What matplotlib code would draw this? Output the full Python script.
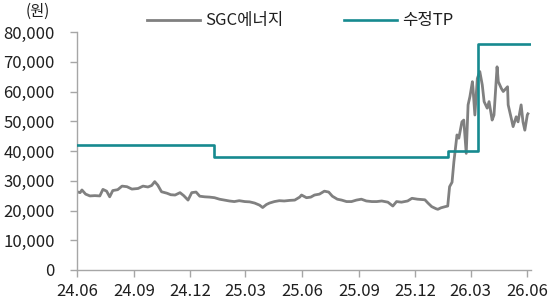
import matplotlib
matplotlib.use("Agg")
import matplotlib.pyplot as plt
import matplotlib.ticker as mticker
import pandas as pd

plt.rcParams['font.family'] = ['Noto Sans CJK KR', 'DejaVu Sans']

price_dates = [
    '2024-06-01', '2024-06-06', '2024-06-09', '2024-06-15', '2024-06-22', '2024-06-30',
    '2024-07-08', '2024-07-13', '2024-07-19', '2024-07-24', '2024-07-29', '2024-08-06',
    '2024-08-13', '2024-08-21', '2024-08-29', '2024-09-08', '2024-09-16', '2024-09-24',
    '2024-09-30', '2024-10-05', '2024-10-10', '2024-10-16', '2024-10-25', '2024-10-31',
    '2024-11-07', '2024-11-15', '2024-11-21', '2024-11-28', '2024-12-04', '2024-12-11',
    '2024-12-17', '2024-12-25', '2025-01-02', '2025-01-10', '2025-01-18', '2025-01-26',
    '2025-02-03', '2025-02-11', '2025-02-19', '2025-02-28', '2025-03-08', '2025-03-16',
    '2025-03-24', '2025-03-29', '2025-04-04', '2025-04-09', '2025-04-17', '2025-04-25',
    '2025-05-03', '2025-05-12', '2025-05-20', '2025-05-28', '2025-05-31', '2025-06-08',
    '2025-06-15', '2025-06-21', '2025-06-29', '2025-07-07', '2025-07-14', '2025-07-20',
    '2025-07-28', '2025-08-04', '2025-08-12', '2025-08-20', '2025-08-28', '2025-09-05',
    '2025-09-13', '2025-09-22', '2025-09-30', '2025-10-08', '2025-10-18', '2025-10-26',
    '2025-11-01', '2025-11-09', '2025-11-19', '2025-11-26', '2025-12-05', '2025-12-17',
    '2025-12-22', '2025-12-28', '2026-01-04', '2026-01-07', '2026-01-12', '2026-01-19',
    '2026-01-23', '2026-01-26', '2026-01-30', '2026-02-02', '2026-02-07', '2026-02-10',
    '2026-02-15', '2026-02-18', '2026-02-22', '2026-02-25', '2026-02-28', '2026-03-04',
    '2026-03-05', '2026-03-08', '2026-03-12', '2026-03-16', '2026-03-20', '2026-03-23',
    '2026-03-28', '2026-03-31', '2026-04-05', '2026-04-08', '2026-04-13', '2026-04-15',
    '2026-04-20', '2026-04-23', '2026-04-30', '2026-05-01', '2026-05-06', '2026-05-09',
    '2026-05-14', '2026-05-17', '2026-05-22', '2026-05-25', '2026-05-28', '2026-06-01',
    '2026-06-02',
]
price_values = [
    26300, 26000, 26900, 25500, 24900, 25000,
    24900, 27100, 26500, 24600, 26700, 27000,
    28200, 28000, 27200, 27400, 28200, 27900,
    28400, 29700, 28500, 26300, 25800, 25300,
    25200, 26000, 25000, 23500, 26000, 26200,
    24800, 24600, 24500, 24300, 23800, 23500,
    23200, 23000, 23300, 23000, 22900, 22500,
    21800, 21000, 22000, 22500, 23000, 23300,
    23200, 23400, 23500, 24500, 25200, 24300,
    24500, 25200, 25500, 26500, 26200, 24800,
    23800, 23500, 23000, 23000, 23500, 23800,
    23200, 23000, 23000, 23200, 22800, 21500,
    23000, 22800, 23200, 24100, 23800, 23600,
    22500, 21300, 20600, 20400, 20900, 21300,
    21500, 28000, 29500, 36400, 45400, 44300,
    49800, 50400, 39200, 55500, 58300, 63300,
    61000, 52100, 64400, 66700, 62200, 56600,
    54400, 56600, 50400, 52100, 68300, 63300,
    61000, 60000, 61600, 55500, 51000, 48200,
    51500, 49800, 55500, 49800, 47000, 52100,
    52500,
]

tp_dates = ['2024-06-01', '2025-01-09', '2026-01-23', '2026-03-13', '2026-06-07']
tp_values = [42000, 38000, 40000, 76000, 76000]

tick_dates = ['2024-06-01', '2024-09-01', '2024-12-01', '2025-03-01', '2025-06-01',
              '2025-09-01', '2025-12-01', '2026-03-01', '2026-06-01']
tick_labels = ['24.06', '24.09', '24.12', '25.03', '25.06', '25.09', '25.12', '26.03', '26.06']

series_names = ['SGC에너지', '수정TP']
unit_label = '(원)'

price_color = '#808080'
tp_color = '#168a8f'
spine_color = '#a6a6a6'
text_color = '#1f1f1f'

fig = plt.figure(figsize=(5.5, 3.05), dpi=100)
ax = fig.add_axes([77/550, 1 - 270/305, (531-77)/550, (270-32)/305])

ax.plot(pd.to_datetime(price_dates), price_values, color=price_color, lw=2.0,
        label=series_names[0], zorder=2)
ax.plot(pd.to_datetime(tp_dates), tp_values, color=tp_color, lw=1.9,
        drawstyle='steps-post', label=series_names[1], zorder=3)

ax.set_ylim(0, 80000)
ax.set_xlim(pd.Timestamp('2024-06-01'), pd.Timestamp('2026-06-07'))
ax.yaxis.set_major_locator(mticker.MultipleLocator(10000))
ax.yaxis.set_major_formatter(mticker.FuncFormatter(lambda v, p: f'{int(v):,}'))
ax.set_xticks(pd.to_datetime(tick_dates))
ax.set_xticklabels(tick_labels)

for s in ['top', 'right']:
    ax.spines[s].set_visible(False)
for s in ['left', 'bottom']:
    ax.spines[s].set_color(spine_color)
    ax.spines[s].set_linewidth(1.0)
ax.tick_params(axis='both', colors=spine_color, length=5, width=1.0,
               labelsize=12, labelcolor=text_color)
ax.tick_params(axis='y', pad=11)
ax.tick_params(axis='x', pad=4)

fig.text(38/550, 1 - 11/305, unit_label, ha='center', va='center', fontsize=11, color=text_color)

fig.legend(loc='center', bbox_to_anchor=(300/550, 1 - 21/305), ncol=2, frameon=False,
           fontsize=12, handlelength=3.2, columnspacing=3.6, handletextpad=0.3,
           borderaxespad=0, borderpad=0, labelcolor=text_color)

fig.savefig('out.png', dpi=100)
